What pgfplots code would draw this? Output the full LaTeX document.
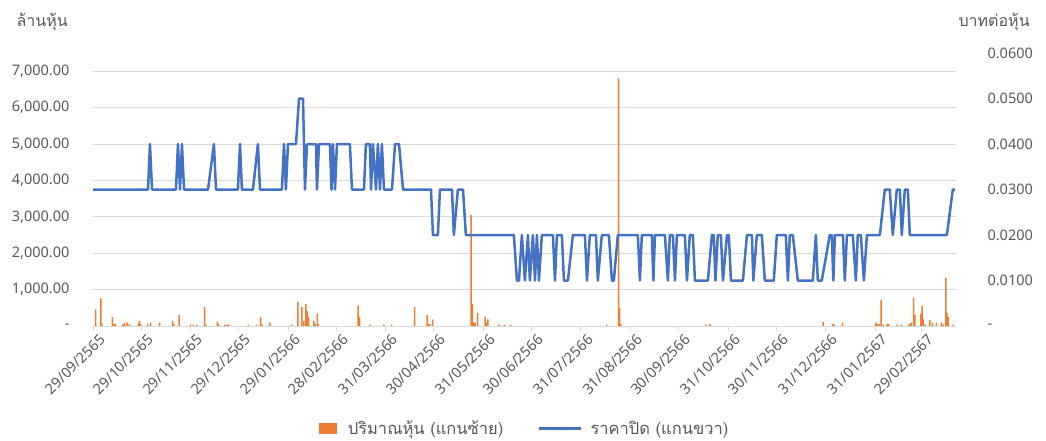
\documentclass[border=0pt]{standalone}
\usepackage{fontspec}
\setmainfont{Noto Sans}
\newfontfamily\thaifont[Script=Thai]{Loma}
\usepackage{pgfplots}
\usepackage{pgfplotstable}
\pgfplotsset{compat=1.18}
\definecolor{volorange}{HTML}{ED7D31}
\definecolor{priceblue}{HTML}{4472C4}
\definecolor{labgray}{HTML}{595959}
\definecolor{gridgray}{HTML}{D9D9D9}

% day 0 = 29/09/2565
\pgfplotstableread{
day vol
1.7 460
5.0 760
5.6 60
12.1 250
13.1 60
13.8 60
18.6 45
19.8 90
21.4 90
22.7 45
28.3 60
29.0 140
29.8 60
34.2 60
36.1 90
41.7 90
49.8 140
50.6 45
53.8 300
61.1 35
62.7 35
64.8 35
69.8 520
70.6 35
77.7 120
78.5 45
82.5 35
83.9 35
85.0 35
97.1 35
102.3 35
104.8 250
105.6 45
110.6 90
124.2 35
128.1 660
130.6 520
131.9 140
133.1 600
133.9 410
134.8 250
138.1 140
138.9 60
140.2 350
141.1 45
165.8 550
166.7 250
173.1 35
181.9 35
186.7 35
201.1 520
208.9 300
209.8 60
210.6 60
212.3 180
236.4 3050
237.1 600
238.1 90
238.9 90
240.4 360
245.2 250
246.1 90
246.9 180
253.9 35
257.1 35
261.1 35
321.1 35
328.6 6800
329.2 490
330.0 60
383.1 35
385.6 60
456.4 120
462.3 45
463.1 60
468.6 90
489.4 90
490.2 60
491.4 60
492.7 720
493.9 35
496.4 60
497.3 60
502.7 35
505.4 35
510.2 60
511.4 90
513.0 780
513.8 300
517.5 340
518.3 550
518.9 180
520.2 35
523.1 170
524.8 90
527.3 90
530.4 90
531.4 35
533.1 1320
533.8 370
534.6 250
537.7 35
}\voltable

\pgfplotstableread{
day price
0 0.03
34.4 0.03
35.6 0.04
36.9 0.03
51.9 0.03
53.1 0.04
54.4 0.03
55.6 0.04
56.9 0.03
71.9 0.03
75.6 0.04
76.9 0.03
90.6 0.03
91.9 0.04
93.1 0.03
100 0.03
103.1 0.04
104.4 0.03
118.1 0.03
119.4 0.04
120.6 0.03
121.9 0.04
126.9 0.04
128.8 0.05
131.3 0.05
132.5 0.03
133.8 0.04
139.4 0.04
140 0.03
141.3 0.04
148.1 0.04
149.1 0.03
150 0.04
151.3 0.03
152.5 0.04
160.6 0.04
161.9 0.03
169.4 0.03
170.6 0.04
173.1 0.04
173.8 0.03
175 0.04
176.9 0.03
178.1 0.04
179.4 0.03
180.6 0.04
181.9 0.03
186.9 0.03
188.8 0.04
191.3 0.04
193.8 0.03
211.3 0.03
212.5 0.02
215.6 0.02
216.9 0.03
224.4 0.03
225.6 0.02
228.1 0.03
231.3 0.03
233.1 0.02
263.1 0.02
265 0.01
266.3 0.01
268.1 0.02
270 0.01
271.9 0.02
273.1 0.01
275 0.02
276.3 0.01
277.5 0.02
278.8 0.01
280.6 0.02
287.5 0.02
288.8 0.01
290 0.02
293.1 0.02
294.4 0.01
296.9 0.01
300 0.02
307.5 0.02
308.8 0.01
310.6 0.02
314.4 0.02
315.6 0.01
318.1 0.02
322.5 0.02
324.4 0.01
325.6 0.01
328.1 0.02
340.6 0.02
341.9 0.01
343.1 0.02
349.4 0.02
350.3 0.01
351.3 0.02
357.5 0.02
359.4 0.01
360.6 0.02
362.5 0.02
363.8 0.01
365 0.02
370 0.02
371.3 0.01
373.1 0.02
375 0.02
376.3 0.01
384.4 0.01
386.9 0.02
388.1 0.02
389.1 0.01
390.6 0.02
392.5 0.02
393.8 0.01
396.3 0.02
397.5 0.02
398.8 0.01
406.3 0.01
408.8 0.02
411.9 0.02
412.8 0.01
415 0.02
418.1 0.02
420 0.01
425.6 0.01
427.5 0.02
433.1 0.02
434.4 0.01
435.6 0.02
437.5 0.02
440.6 0.01
450 0.01
451.9 0.02
453.1 0.01
455.6 0.01
460.6 0.02
461.9 0.02
462.8 0.01
463.8 0.02
468.8 0.02
470 0.01
471.3 0.02
475 0.02
476.9 0.01
478.1 0.02
480 0.02
481.9 0.01
483.8 0.02
491.9 0.02
495 0.03
498.1 0.03
500 0.02
502.5 0.03
504.4 0.03
505.6 0.02
507.5 0.03
509.4 0.03
510.6 0.02
533.8 0.02
537.5 0.03
538.8 0.03
}\pricetable

\begin{document}
\begin{tikzpicture}
\useasboundingbox (-93pt,-115pt) rectangle (953pt,326pt);
\pgfplotsset{
  every axis/.append style={
    scale only axis, width=863pt, height=273pt,
    xmin=0, xmax=539.5,
    ticklabel style={font=\fontsize{14.5}{17}\selectfont, text=labgray},
  },
}
\begin{axis}[
  ymin=0, ymax=7500,
  axis x line*=bottom, axis y line*=left,
  y axis line style={draw=none},
  x axis line style={draw=gridgray, line width=0.8pt, -},
  xtick={0,30,61,91,122,152,183,213,244,274,305,336,366,397,427,458,489,518},
  xticklabels={29/09/2565,29/10/2565,29/11/2565,29/12/2565,29/01/2566,28/02/2566,31/03/2566,30/04/2566,31/05/2566,30/06/2566,31/07/2566,31/08/2566,30/09/2566,31/10/2566,30/11/2566,31/12/2566,31/01/2567,29/02/2567},
  xticklabel style={rotate=45, anchor=north east, xshift=6pt, yshift=-2pt},
  xtick align=outside, major tick length=5pt,
  xtick style={draw=gridgray, line width=0.8pt},
  ytick={0,1000,2000,3000,4000,5000,6000,7000},
  yticklabels={{-},{1,000.00},{2,000.00},{3,000.00},{4,000.00},{5,000.00},{6,000.00},{7,000.00}},
  ytick style={draw=none},
  yticklabel style={anchor=east, xshift=-20pt},
  ymajorgrids, grid style={gridgray, line width=0.8pt},
  scaled y ticks=false,
]
\addplot[ybar, bar width=1.5pt, fill=volorange, draw=none] table[x=day, y=vol] {\voltable};
\end{axis}
\begin{axis}[
  ymin=0, ymax=0.06,
  axis y line*=right, axis x line=none,
  y axis line style={draw=none},
  ytick={0,0.01,0.02,0.03,0.04,0.05,0.06},
  yticklabels={{-},{0.0100},{0.0200},{0.0300},{0.0400},{0.0500},{0.0600}},
  ytick style={draw=none},
  yticklabel style={anchor=west, xshift=28pt},
  scaled y ticks=false,
  legend columns=2,
  legend style={at={(0.5,-0.375)}, anchor=center, draw=none,
    font=\fontsize{16.5}{18}\selectfont, text=labgray,
    /tikz/every even column/.append style={column sep=32pt}},
]
\addlegendimage{legend image code/.code={%
  \path[draw=none, fill=none] (0pt,-5pt) rectangle (27pt,5pt);
  \fill[volorange] (0pt,-5pt) rectangle (17pt,5pt);}}
\addlegendentry{\thaifont ปริมาณหุ้น (แกนซ้าย)}
\addplot[priceblue, line width=2.5pt, line join=round,
  legend image code/.code={%
    \path[draw=none, fill=none] (0pt,-1pt) rectangle (50pt,1pt);
    \draw[priceblue, line width=2.5pt] (0pt,0pt) -- (42pt,0pt);}]
  table[x=day, y=price] {\pricetable};
\addlegendentry{\thaifont ราคาปิด (แกนขวา)}
\end{axis}
\node[anchor=west, font=\fontsize{16}{18}\selectfont, text=labgray] at (-80pt,304pt) {\thaifont ล้านหุ้น};
\node[anchor=west, font=\fontsize{16}{18}\selectfont, text=labgray] at (862pt,304pt) {\thaifont บาทต่อหุ้น};
\end{tikzpicture}
\end{document}
